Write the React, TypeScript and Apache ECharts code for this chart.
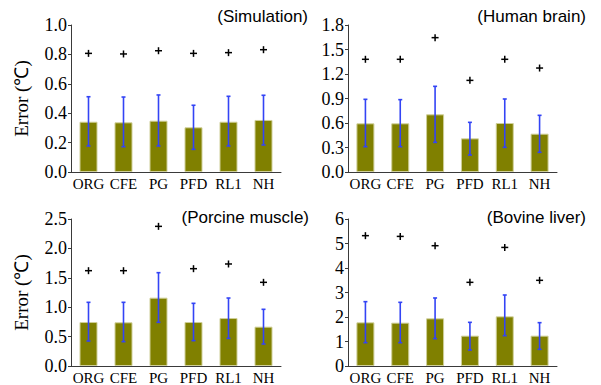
import React, { useEffect, useRef } from "react";
import * as echarts from "echarts";

const categories = ["ORG", "CFE", "PG", "PFD", "RL1", "NH"];

const simMean = [0.342, 0.338, 0.349, 0.304, 0.342, 0.354];
const simLow = [0.177, 0.172, 0.177, 0.154, 0.177, 0.184];
const simHigh = [0.512, 0.51, 0.524, 0.454, 0.515, 0.522];
const simMax = [0.807, 0.803, 0.825, 0.807, 0.812, 0.832];

const brainMean = [0.596, 0.596, 0.706, 0.412, 0.6, 0.469];
const brainLow = [0.31, 0.31, 0.363, 0.208, 0.302, 0.241];
const brainHigh = [0.89, 0.886, 1.049, 0.608, 0.894, 0.694];
const brainMax = [1.38, 1.38, 1.645, 1.122, 1.38, 1.273];

const porcMean = [0.748, 0.743, 1.162, 0.748, 0.816, 0.669];
const porcLow = [0.425, 0.414, 0.743, 0.431, 0.47, 0.374];
const porcHigh = [1.083, 1.083, 1.587, 1.066, 1.156, 0.964];
const porcMax = [1.621, 1.621, 2.375, 1.655, 1.735, 1.423];

const bovMean = [1.782, 1.769, 1.946, 1.238, 2.027, 1.238];
const bovLow = [0.952, 0.952, 1.116, 0.653, 1.238, 0.68];
const bovHigh = [2.626, 2.599, 2.776, 1.782, 2.898, 1.769];
const bovMax = [5.32, 5.29, 4.91, 3.415, 4.84, 3.497];

const panels = [
  { title: "(Simulation)", mean: simMean, low: simLow, high: simHigh, max: simMax, yMax: 1.0, yInt: 0.2, dec: 1, grid: { left: 71, top: 25, width: 210, height: 147 }, titleX: 308, titleY: 17, yName: true },
  { title: "(Human brain)", mean: brainMean, low: brainLow, high: brainHigh, max: brainMax, yMax: 1.8, yInt: 0.3, dec: 1, grid: { left: 348, top: 25, width: 209, height: 147 }, titleX: 586, titleY: 17, yName: false },
  { title: "(Porcine muscle)", mean: porcMean, low: porcLow, high: porcHigh, max: porcMax, yMax: 2.5, yInt: 0.5, dec: 1, grid: { left: 71, top: 219, width: 210, height: 147 }, titleX: 309, titleY: 218, yName: true },
  { title: "(Bovine liver)", mean: bovMean, low: bovLow, high: bovHigh, max: bovMax, yMax: 6, yInt: 1, dec: 0, grid: { left: 348, top: 219, width: 209, height: 147 }, titleX: 586, titleY: 218, yName: false },
];

const AXIS_COLOR = "#3a3a3a";
const SERIF = "'Liberation Serif', 'Times New Roman', serif";
const SANS = "'Liberation Sans', Arial, sans-serif";

export default function App() {
  const ref = useRef<HTMLDivElement>(null);
  useEffect(() => {
    document.body.style.margin = "0";
    const chart = echarts.init(ref.current!, null, { renderer: "svg" });
    const grids: any[] = [];
    const xAxes: any[] = [];
    const yAxes: any[] = [];
    const series: any[] = [];
    const graphics: any[] = [];
    panels.forEach((p, i) => {
      grids.push({ ...p.grid, containLabel: false });
      xAxes.push({
        type: "category",
        gridIndex: i,
        data: categories,
        axisLine: { lineStyle: { color: AXIS_COLOR, width: 1 } },
        axisTick: { alignWithLabel: true, length: 3, lineStyle: { color: AXIS_COLOR } },
        axisLabel: { color: "#000", fontFamily: SERIF, fontSize: 15, margin: 4, interval: 0, hideOverlap: false },
      });
      yAxes.push({
        type: "value",
        gridIndex: i,
        min: 0,
        max: p.yMax,
        interval: p.yInt,
        splitLine: { show: false },
        axisLine: { show: true, lineStyle: { color: AXIS_COLOR, width: 1 } },
        axisTick: { show: true, length: 3, lineStyle: { color: AXIS_COLOR } },
        axisLabel: {
          color: "#000",
          fontFamily: SERIF,
          fontSize: 18,
          margin: 4,
          formatter: (v: number) => v.toFixed(p.dec),
        },
        name: p.yName ? "Error (℃)" : "",
        nameLocation: "middle",
        nameGap: 40,
        nameTextStyle: { color: "#000", fontFamily: SERIF, fontSize: 19 },
      });
      series.push({
        type: "bar",
        xAxisIndex: i,
        yAxisIndex: i,
        data: p.mean,
        barWidth: 18,
        itemStyle: { color: "#808000", borderColor: "#cfcf98", borderWidth: 1 },
      });
      series.push({
        type: "custom",
        xAxisIndex: i,
        yAxisIndex: i,
        data: categories.map((_, k) => [k, p.low[k], p.high[k]]),
        renderItem: (params: any, api: any) => {
          const x = api.value(0);
          const lo = api.coord([x, api.value(1)]);
          const hi = api.coord([x, api.value(2)]);
          const st = { stroke: "#3344f5", lineWidth: 1.6 };
          const cw = 2;
          return {
            type: "group",
            children: [
              { type: "line", shape: { x1: lo[0], y1: lo[1], x2: hi[0], y2: hi[1] }, style: st },
              { type: "line", shape: { x1: lo[0] - cw, y1: lo[1], x2: lo[0] + cw, y2: lo[1] }, style: st },
              { type: "line", shape: { x1: hi[0] - cw, y1: hi[1], x2: hi[0] + cw, y2: hi[1] }, style: st },
            ],
          };
        },
        z: 5,
      });
      series.push({
        type: "custom",
        xAxisIndex: i,
        yAxisIndex: i,
        data: categories.map((_, k) => [k, p.max[k]]),
        renderItem: (params: any, api: any) => {
          const c = api.coord([api.value(0), api.value(1)]);
          const s = 3.5;
          const st = { stroke: "#000", lineWidth: 1.5 };
          return {
            type: "group",
            children: [
              { type: "line", shape: { x1: c[0] - s, y1: c[1], x2: c[0] + s, y2: c[1] }, style: st },
              { type: "line", shape: { x1: c[0], y1: c[1] - s, x2: c[0], y2: c[1] + s }, style: st },
            ],
          };
        },
        z: 5,
      });
      graphics.push({
        type: "text",
        right: 601 - p.titleX,
        top: p.titleY - 9,
        style: { text: p.title, font: `17px ${SANS}`, fill: "#000" },
      });
    });
    chart.setOption({
      animation: false,
      backgroundColor: "#fff",
      grid: grids,
      xAxis: xAxes,
      yAxis: yAxes,
      series,
      graphic: graphics,
    });
    return () => chart.dispose();
  }, []);
  return <div ref={ref} style={{ width: 601, height: 385 }} />;
}
